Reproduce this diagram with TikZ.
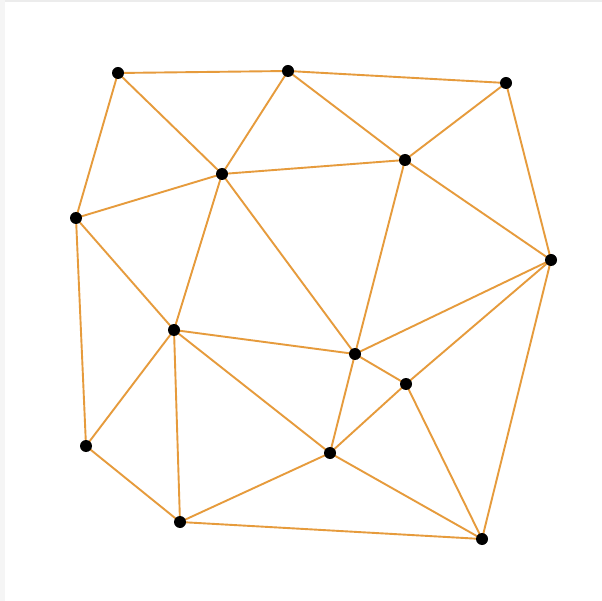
\documentclass[tikz,border=0pt]{standalone}
\begin{document}
\begin{tikzpicture}[x=1pt,y=-1pt,
  pt/.style={circle,inner sep=0pt,minimum size=12pt},
  edge/.style={draw={rgb,255:red,230;green,155;blue,60},line width=1.9pt}]
\useasboundingbox (0,0) rectangle (602,601);
\fill[white] (0,0) rectangle (602,601);
\fill[gray!15] (0,0) rectangle (602,2.5);
\fill[gray!8] (0,0) rectangle (5,601);
\node[pt] (A) at (118,73) {};
\node[pt] (B) at (288,71) {};
\node[pt] (C) at (506,83) {};
\node[pt] (D) at (222,174) {};
\node[pt] (E) at (405,160) {};
\node[pt] (F) at (76,218) {};
\node[pt] (G) at (551,260) {};
\node[pt] (H) at (174,330) {};
\node[pt] (I) at (355,354) {};
\node[pt] (J) at (406,384) {};
\node[pt] (K) at (86,446) {};
\node[pt] (L) at (330,453) {};
\node[pt] (M) at (180,522) {};
\node[pt] (N) at (482,539) {};
\foreach \a/\b in {A/B,B/C,A/D,B/D,B/E,C/E,C/G,D/E,A/F,F/D,D/H,D/I,E/I,E/G,F/H,F/K,K/H,K/M,H/M,H/I,H/L,I/L,I/J,I/G,J/G,J/L,J/N,G/N,L/M,L/N,M/N}
  \draw[edge] (\a.center) -- (\b.center);
\foreach \n in {A,B,C,D,E,F,G,H,I,J,K,L,M,N}
  \fill (\n) circle (6pt);
\end{tikzpicture}
\end{document}
